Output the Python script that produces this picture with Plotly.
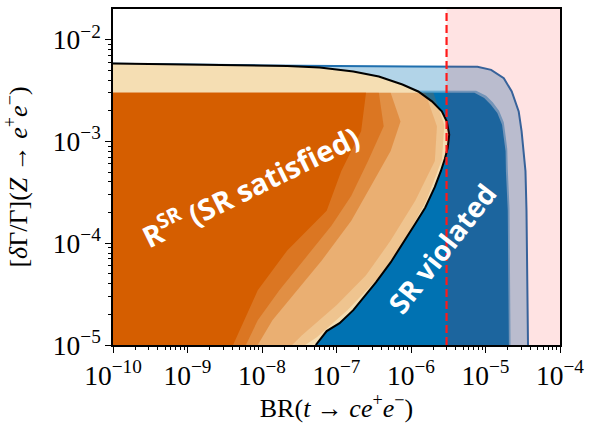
import numpy as np
import plotly.graph_objects as go

# Outer envelope of the full parameter scan (light blue band with outline)
env_x = [1e-10, 1e-8, 1e-6, 7.8e-6, 1.19e-5, 1.76e-5, 2.25e-5, 2.79e-5, 3.05e-5, 3.24e-5, 3.44e-5, 3.55e-5, 3.72e-5]
env_y = [5.8e-3, 5.57e-3, 5.45e-3, 5.4e-3, 5.04e-3, 4.17e-3, 3.09e-3, 1.97e-3, 1.26e-3, 8.0e-4, 5.1e-4, 2.1e-4, 1e-5]

# Points that violate the sum rule (dark blue cloud) and its thinner fringe
sv_x = [1e-10, 7.1e-6, 9.6e-6, 1.18e-5, 1.44e-5, 1.67e-5, 1.76e-5, 1.86e-5, 1.88e-5, 1.99e-5, 2.06e-5]
sv_y = [3.05e-3, 3.0e-3, 2.66e-3, 2.29e-3, 1.9e-3, 1.46e-3, 1.08e-3, 8.0e-4, 5.1e-4, 2.1e-4, 1e-5]
sv_fringe_x = [1e-10, 7.5e-6, 1.02e-5, 1.25e-5, 1.52e-5, 1.76e-5, 1.86e-5, 1.96e-5, 1.99e-5, 2.1e-5, 2.17e-5]
sv_fringe_y = [3.2e-3, 3.15e-3, 2.8e-3, 2.42e-3, 2.0e-3, 1.54e-3, 1.14e-3, 8.4e-4, 5.4e-4, 2.2e-4, 1e-5]

# Boundary of the region R^SR where the sum rule is satisfied
cont_x = [1e-10, 1.41e-9, 2.18e-8, 5.96e-8, 1.68e-7, 3.70e-7, 7.67e-7, 1.25e-6, 1.91e-6, 2.59e-6,
          3.02e-6, 3.26e-6, 3.11e-6, 2.84e-6, 2.52e-6, 2.09e-6, 1.55e-6, 1.14e-6, 7.93e-7, 5.33e-7,
          3.38e-7, 2.34e-7, 1.68e-7, 1.10e-7, 7.38e-8, 5.27e-8]
cont_y = [5.81e-3, 5.70e-3, 5.51e-3, 5.31e-3, 4.85e-3, 4.34e-3, 3.62e-3, 3.09e-3, 2.47e-3, 1.97e-3,
          1.57e-3, 1.17e-3, 8.59e-4, 6.70e-4, 5.12e-4, 3.57e-4, 2.23e-4, 1.55e-4, 1.01e-4, 6.47e-5,
          4.12e-5, 2.94e-5, 2.20e-5, 1.64e-5, 1.37e-5, 1e-5]

# Density levels of the sum-rule-satisfying points (orange cloud), sparse -> dense
sat_edge_x = [1e-10, 2.0e-6, 2.8e-6, 2.6e-6, 1.6e-6, 8.0e-7, 3.7e-7, 1.4e-7, 5.5e-8, 3.8e-8]
sat_edge_y = [3.0e-3, 3.0e-3, 1.45e-3, 6.6e-4, 2.6e-4, 1.02e-4, 4.6e-5, 2.2e-5, 1.2e-5, 1e-5]
sat_sparse_x = [1e-10, 1.55e-6, 2.23e-6, 2.09e-6, 1.14e-6, 5.33e-7, 2.49e-7, 1e-7, 3.44e-8, 2.54e-8]
sat_sparse_y = [3.0e-3, 3.0e-3, 1.41e-3, 6.41e-4, 2.61e-4, 1.06e-4, 4.83e-5, 2.46e-5, 1.25e-5, 1e-5]
sat_mid_x = [1e-10, 5.33e-7, 7.23e-7, 5.33e-7, 2.90e-7, 1.58e-7, 6.34e-8, 2.96e-8, 1.38e-8, 8.77e-9]
sat_mid_y = [3.0e-3, 3.0e-3, 1.57e-3, 8.02e-4, 3.65e-4, 1.66e-4, 6.76e-5, 3.44e-5, 1.75e-5, 1e-5]
sat_thick_x = [1e-10, 3.70e-7, 4.30e-7, 2.65e-7, 1.58e-7, 8.59e-8, 3.78e-8, 1.71e-8, 8.77e-9, 6.08e-9]
sat_thick_y = [3.0e-3, 3.0e-3, 1.41e-3, 6.41e-4, 2.92e-4, 1.49e-4, 7.08e-5, 3.44e-5, 1.75e-5, 1e-5]
sat_dense_x = [1e-10, 2.49e-7, 2.14e-7, 1.16e-7, 7.38e-8, 2.18e-8, 8.77e-9, 4.09e-9]
sat_dense_y = [3.0e-3, 3.0e-3, 1.26e-3, 5.12e-4, 2.08e-4, 8.48e-5, 3.44e-5, 1e-5]

# Experimental bound on BR(t -> c e+ e-)
br_limit = 3e-6

x_min, x_max = 1e-10, 1e-4
y_min, y_max = 1e-5, 10 ** -1.70

BLUE = "#0072B2"
ORANGE = "#D55E00"
WHEAT = "#F5DEB3"


def closed(xs, ys):
    """Close a region against the lower-left corner of the axes."""
    return list(xs) + [x_min, xs[0]], list(ys) + [y_min, ys[0]]


def region(xs, ys, color):
    px, py = closed(xs, ys)
    return go.Scatter(x=px, y=py, fill="toself", fillcolor=color, mode="lines",
                      line=dict(width=0), hoverinfo="skip")


fig = go.Figure()

fig.add_trace(region(env_x, env_y, "rgba(0,114,178,0.3)"))
fig.add_trace(region(sv_fringe_x, sv_fringe_y, "rgba(0,114,178,0.45)"))
fig.add_trace(region(sv_x, sv_y, BLUE))
fig.add_trace(go.Scatter(x=env_x, y=env_y, mode="lines",
                         line=dict(color="#1f6fae", width=2), hoverinfo="skip"))
fig.add_trace(region(cont_x, cont_y, WHEAT))

# orange cloud thinning out towards the boundary
for xs, ys, alpha in [(sat_edge_x, sat_edge_y, 0.2),
                      (sat_sparse_x, sat_sparse_y, 0.2),
                      (sat_mid_x, sat_mid_y, 0.4),
                      (sat_thick_x, sat_thick_y, 0.5),
                      (sat_dense_x, sat_dense_y, 1.0)]:
    fig.add_trace(region(xs, ys, f"rgba(213,94,0,{alpha})"))

fig.add_trace(go.Scatter(x=cont_x, y=cont_y, mode="lines",
                         line=dict(color="black", width=2), hoverinfo="skip"))

# excluded region beyond the experimental limit
fig.add_trace(go.Scatter(x=[br_limit, x_max, x_max, br_limit, br_limit],
                         y=[y_min, y_min, 0.05, 0.05, y_min],
                         fill="toself", fillcolor="rgba(255,0,0,0.11)",
                         line=dict(width=0), mode="lines", hoverinfo="skip"))
fig.add_trace(go.Scatter(x=[br_limit, br_limit], y=[y_min, 0.05], mode="lines",
                         line=dict(color="#ff1a1a", width=2.2, dash="8px,4px"), hoverinfo="skip"))

fig.add_annotation(x=np.log10(6.8e-9), y=np.log10(3.75e-4), xref="x", yref="y",
                   text="<b>R<sup>SR</sup> (SR satisfied)</b>", showarrow=False,
                   textangle=-26, font=dict(family="Open Sans", size=29, color="white"))
fig.add_annotation(x=np.log10(2.6e-6), y=np.log10(9.0e-5), xref="x", yref="y",
                   text="<b>SR violated</b>", showarrow=False,
                   textangle=-52, font=dict(family="Open Sans", size=28, color="white"))

axis_common = dict(
    type="log", dtick=1, exponentformat="power", showexponent="all",
    ticks="outside", ticklen=6, tickwidth=1, tickcolor="black",
    minor=dict(ticks="outside", ticklen=3.5, tickwidth=0.8, tickcolor="black", showgrid=False),
    showline=True, mirror=True, linecolor="black", linewidth=1.5,
    showgrid=False, zeroline=False, ticklabeloverflow="allow",
    tickfont=dict(family="Liberation Serif", size=22, color="black"),
)

fig.update_layout(
    width=591, height=423,
    margin=dict(l=113, r=24, t=7, b=78),
    paper_bgcolor="white", plot_bgcolor="white",
    showlegend=False,
    xaxis=dict(axis_common, range=[np.log10(x_min), np.log10(x_max)],
               title=dict(text="BR(<i>t</i> → <i>ce</i><sup>+</sup><i>e</i><sup>−</sup>)",
                          font=dict(family="Liberation Serif", size=26, color="black"),
                          standoff=6)),
    yaxis=dict(axis_common, range=[np.log10(y_min), np.log10(y_max)],
               title=dict(text="[<i>δ</i>Γ/Γ](<i>Z</i> → <i>e</i><sup>+</sup><i>e</i><sup>−</sup>)",
                          font=dict(family="Liberation Serif", size=26, color="black"),
                          standoff=20)),
)

fig.write_html("out.html")
